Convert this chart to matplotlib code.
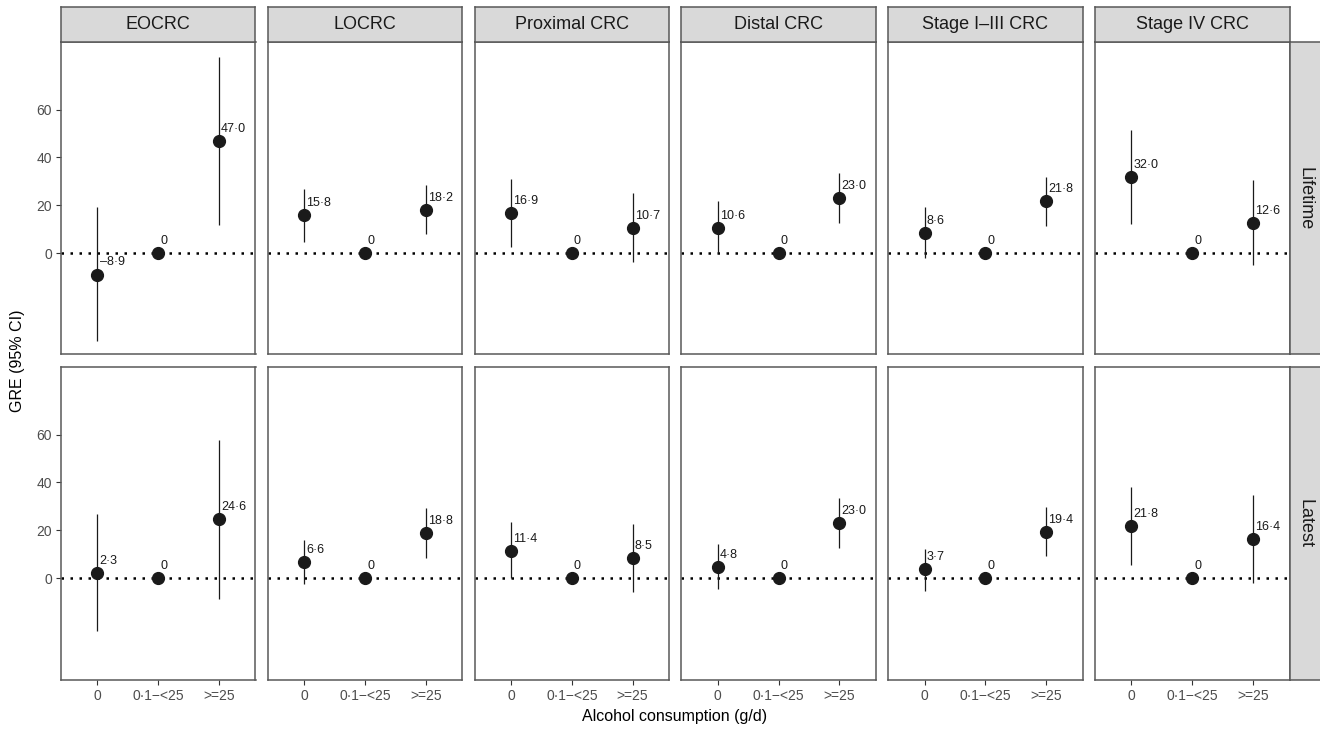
import matplotlib
matplotlib.use('Agg')
import matplotlib.pyplot as plt
import numpy as np

plt.rcParams['font.family'] = ['Liberation Sans', 'DejaVu Sans']

# data
kategorie = ['0', '0·1−<25', '>=25']
podgrupy = ['EOCRC', 'LOCRC', 'Proximal CRC', 'Distal CRC', 'Stage I–III CRC', 'Stage IV CRC']
wiersze = ['Lifetime', 'Latest']

gre_lifetime = [[-8.9, 0, 47.0], [15.8, 0, 18.2], [16.9, 0, 10.7],
                [10.6, 0, 23.0], [8.6, 0, 21.8], [32.0, 0, 12.6]]
lo_lifetime = [[-36.5, np.nan, 11.7], [4.6, np.nan, 8.1], [2.8, np.nan, -3.5],
               [0.2, np.nan, 12.7], [-2.1, np.nan, 11.3], [12.3, np.nan, -5.1]]
hi_lifetime = [[19.3, np.nan, 82.1], [26.9, np.nan, 28.6], [31.1, np.nan, 25.1],
               [22.0, np.nan, 33.4], [19.5, np.nan, 32.0], [51.5, np.nan, 30.4]]

gre_latest = [[2.3, 0, 24.6], [6.6, 0, 18.8], [11.4, 0, 8.5],
              [4.8, 0, 23.0], [3.7, 0, 19.4], [21.8, 0, 16.4]]
lo_latest = [[-22.2, np.nan, -8.7], [-2.4, np.nan, 8.6], [0.1, np.nan, -5.7],
             [-4.3, np.nan, 12.6], [-5.2, np.nan, 9.1], [5.5, np.nan, -1.9]]
hi_latest = [[26.7, np.nan, 57.8], [15.8, np.nan, 29.4], [23.4, np.nan, 22.8],
             [14.1, np.nan, 33.6], [12.3, np.nan, 29.8], [38.2, np.nan, 34.7]]

dane = [(gre_lifetime, lo_lifetime, hi_lifetime), (gre_latest, lo_latest, hi_latest)]

W, H = 1320, 730
fig = plt.figure(figsize=(W / 100, H / 100), dpi=100)

ramka = '#595959'
pasek = '#d9d9d9'


def px(x, y, w, h):
    # pixel box (from top-left) -> figure coords
    return [x / W, 1 - (y + h) / H, w / W, h / H]


lewe = [61 + i * 206.8 for i in range(6)]
szer = 194.5
gory = [42, 367]
wys = 312.5

for r in range(2):
    gre, lo, hi = dane[r]
    for c in range(6):
        ax = fig.add_axes(px(lewe[c], gory[r], szer, wys))
        x = np.arange(3)
        ax.axhline(0, color='black', lw=1.8, linestyle=(0, (1, 2.6)), zorder=1)
        ax.vlines(x, lo[c], hi[c], color='#1a1a1a', lw=0.9, zorder=2)
        ax.plot(x, gre[c], 'o', color='#1a1a1a', ms=8.5, zorder=3)
        for xi, v in zip(x, gre[c]):
            t = '0' if v == 0 else ('%.1f' % v).replace('.', '·').replace('-', '–')
            ax.annotate(t, (xi, v), xytext=(1.5, 6.5), textcoords='offset points',
                        ha='left', va='baseline', fontsize=9, color='#1a1a1a')
        ax.set_xlim(-0.6, 2.6)
        ax.set_ylim(-42.3, 88.2)
        ax.set_xticks(x)
        ax.set_yticks([0, 20, 40, 60])
        ax.tick_params(length=3.5, width=0.8, color='#333333', labelcolor='#4d4d4d',
                       labelsize=10, pad=3)
        if r == 1:
            ax.set_xticklabels(kategorie)
        else:
            ax.tick_params(axis='x', bottom=False, labelbottom=False)
        if c != 0:
            ax.tick_params(axis='y', left=False, labelleft=False)
        for s in ax.spines.values():
            s.set_color(ramka)
            s.set_linewidth(1.1)

        # top strips
        if r == 0:
            sa = fig.add_axes(px(lewe[c], 7, szer, 35))
            sa.set_facecolor(pasek)
            sa.set_xticks([])
            sa.set_yticks([])
            for s in sa.spines.values():
                s.set_color(ramka)
                s.set_linewidth(1.1)
            sa.text(0.5, 0.5, podgrupy[c], ha='center', va='center', fontsize=13,
                    color='#1a1a1a', transform=sa.transAxes)

    # right strips
    sa = fig.add_axes(px(1290, gory[r], 32, wys))
    sa.set_facecolor(pasek)
    sa.set_xticks([])
    sa.set_yticks([])
    for s in sa.spines.values():
        s.set_color(ramka)
        s.set_linewidth(1.1)
    sa.text(0.47, 0.5, wiersze[r], ha='center', va='center', fontsize=13,
            color='#1a1a1a', rotation=-90, transform=sa.transAxes)

fig.text(675 / W, 1 - 717 / H, 'Alcohol consumption (g/d)', ha='center', va='center',
         fontsize=11.5, color='black')
fig.text(18 / W, 1 - 361 / H, 'GRE (95% CI)', ha='center', va='center',
         fontsize=11.5, color='black', rotation=90)

fig.savefig('out.png', dpi=100, facecolor='white')
